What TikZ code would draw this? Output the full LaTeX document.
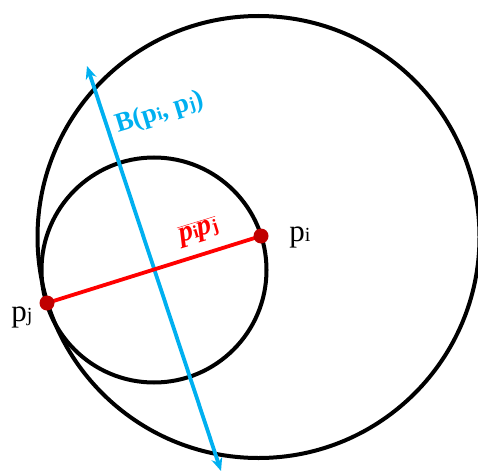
\documentclass[tikz,border=0pt]{standalone}
\usepackage{fontspec}
\setmainfont{Liberation Serif}
\usetikzlibrary{arrows.meta}
\definecolor{bisec}{RGB}{0,176,240}
\definecolor{dotred}{RGB}{192,0,0}
\tikzset{
  circ/.style={draw=black, line width=4pt},
  seg/.style={draw=red, line width=3.8pt},
  bis/.style={draw=bisec, line width=3.8pt, {Stealth[length=13pt,width=11pt]}-{Stealth[length=13pt,width=11pt]}},
  ptdot/.style={circle, fill=dotred, inner sep=0pt, minimum size=15pt},
  lbl/.style={font=\fontsize{31}{33}\selectfont, inner sep=0pt},
}
\begin{document}
\begin{tikzpicture}[x=1pt,y=-1pt]
\useasboundingbox (0,0) rectangle (478,473);
\coordinate (Cbig) at (258.5,237);
\coordinate (Csmall) at (154,270);
\draw[circ] (Cbig) circle (221pt);
\draw[circ] (Csmall) circle (112.5pt);
\coordinate (bt) at (87,66);
\coordinate (bb) at (221,471);
\draw[bis] (bb) -- (bt);
\coordinate (pjc) at (47,303);
\coordinate (pic) at (261,236);
\draw[seg] (pjc) -- (pic);
\node[ptdot] (pj) at (pjc) {};
\node[ptdot] (pi) at (pic) {};
\node[lbl] (lpi) at (300,237) {p{\fontsize{20}{20}\selectfont i}};
\node[lbl] (lpj) at (22,317) {p{\fontsize{20}{20}\selectfont j}};
\node[rotate=17, text=bisec, inner sep=0pt, font=\fontsize{27}{29}\selectfont\bfseries] (lb) at (160,113) {B(p{\fontsize{18}{18}\selectfont i}, p{\fontsize{18}{18}\selectfont j})};
\node[rotate=17, text=red, inner sep=0pt, font=\fontsize{29}{31}\selectfont\bfseries\itshape] (lseg) at (199,232) {$\overline{\hbox{p{\fontsize{18}{18}\selectfont\upshape i}p{\fontsize{18}{18}\selectfont\upshape j}}}$};
\end{tikzpicture}
\end{document}
